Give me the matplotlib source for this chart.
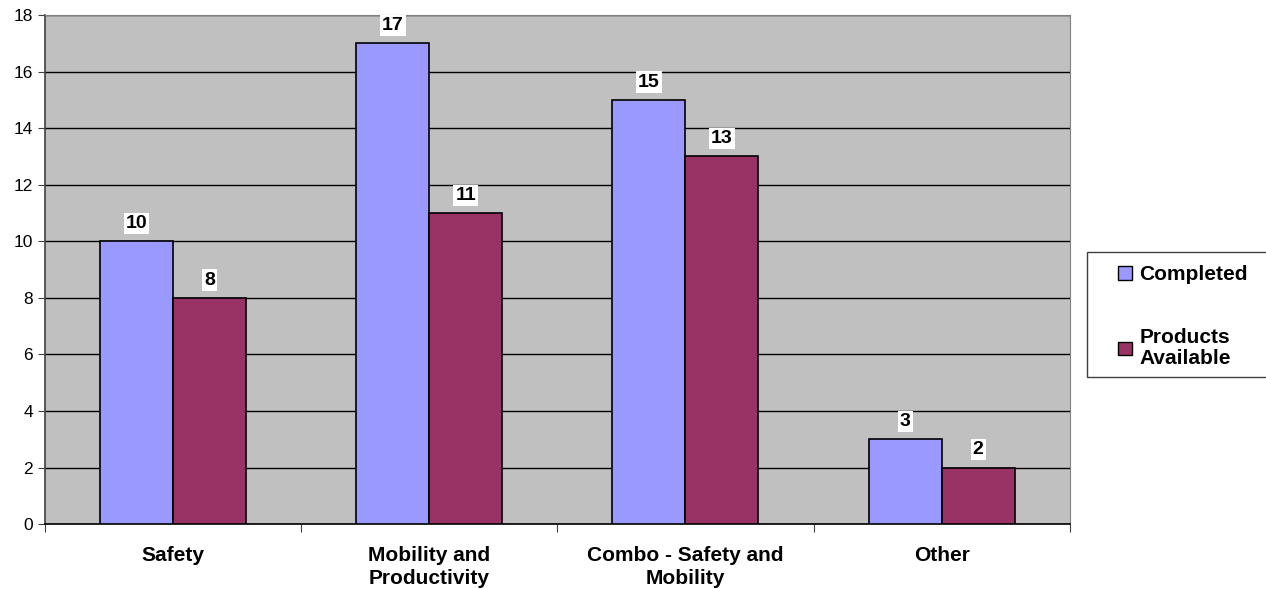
import numpy as np
import matplotlib.pyplot as plt
from matplotlib.patches import Patch, Rectangle

plt.rcParams['font.family'] = ['Liberation Sans', 'DejaVu Sans']

categories = ["Safety", "Mobility and\nProductivity", "Combo - Safety and\nMobility", "Other"]
completed = [10, 17, 15, 3]
available = [8, 11, 13, 2]
series_names = ["Completed", "Products\nAvailable"]
colors = ["#9999FF", "#993366"]

fig = plt.figure(figsize=(12.66, 5.89), dpi=100)
ax = fig.add_axes([0.0355, 0.110, 0.8095, 0.8645])
ax.set_facecolor("#C0C0C0")

x = np.arange(len(categories))
w = 0.285
b1 = ax.bar(x - w / 2, completed, w, color=colors[0], edgecolor="black", linewidth=1.2, zorder=3)
b2 = ax.bar(x + w / 2, available, w, color=colors[1], edgecolor="black", linewidth=1.2, zorder=3)

# value labels with white boxes
for bars, vals in ((b1, completed), (b2, available)):
    for r, v in zip(bars, vals):
        ax.text(r.get_x() + r.get_width() / 2, v + 0.33, str(v), ha="center", va="bottom",
                fontsize=14, fontweight="bold", zorder=4,
                bbox=dict(facecolor="white", edgecolor="none", pad=1.5))

ax.set_xlim(-0.5, 3.5)
ax.set_ylim(0, 18)
ax.set_yticks(range(0, 19, 2))
ax.yaxis.grid(True, color="black", linewidth=1.0, zorder=1)
ax.set_axisbelow(True)

ax.set_xticks(np.arange(-0.5, 4, 1))
ax.set_xticklabels([])
ax.set_xticks(x, minor=True)
ax.set_xticklabels(categories, minor=True, fontsize=15, fontweight="bold", linespacing=1.3)
ax.tick_params(axis="x", which="minor", length=0, pad=15.5)
ax.tick_params(axis="x", which="major", length=6, direction="out", color="#404040")
ax.tick_params(axis="y", length=5, direction="out", labelsize=12.5, color="#404040")

ax.spines["top"].set_color("#808080")
ax.spines["right"].set_color("#808080")
ax.spines["left"].set_color("#404040")
ax.spines["bottom"].set_color("black")
ax.spines["left"].set_linewidth(1.2)
ax.spines["bottom"].set_linewidth(1.2)

# legend box
fig.patches.append(Rectangle((0.8586, 0.360), 0.16, 0.212, transform=fig.transFigure,
                             facecolor="white", edgecolor="#404040", linewidth=1.0, zorder=0))
handles = [Patch(facecolor=c, edgecolor="black") for c in colors]
leg = fig.legend(handles, series_names, loc="center left", bbox_to_anchor=(0.875, 0.462),
                 frameon=False, prop={"weight": "bold", "size": 15}, labelspacing=2.1,
                 handlelength=0.65, handleheight=0.6, handletextpad=0.35, borderpad=0)
for t in leg.get_texts():
    t.set_multialignment("center")
    t.set_linespacing(1.15)

fig.savefig("out.png", dpi=100)
